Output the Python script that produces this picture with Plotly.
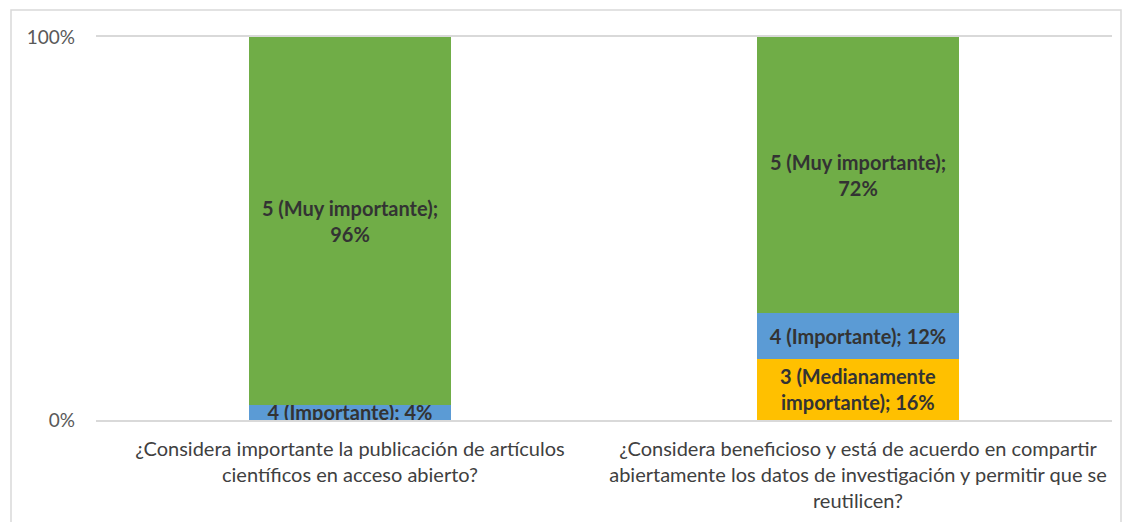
import plotly.graph_objects as go

FONT = "Lato"
C_TEXT = "#404040"
C_AXIS = "#595959"
C_GRID = "#D9D9D9"

categories = [
    "¿Considera importante la publicación de artículos<br>científicos en acceso abierto?",
    "¿Considera beneficioso y está de acuerdo en compartir<br>abiertamente los datos de investigación y permitir que se<br>reutilicen?",
]
series_names = ["3 (Medianamente importante)", "4 (Importante)", "5 (Muy importante)"]
values_3 = [0, 16]
values_4 = [4, 12]
values_5 = [96, 72]
labels_3 = ["", "3 (Medianamente<br>importante); 16%"]
labels_4 = ["4 (Importante); 4%", "4 (Importante); 12%"]
labels_5 = ["5 (Muy importante);<br>96%", "5 (Muy importante);<br>72%"]
colors = ["#FFC000", "#5B9BD5", "#70AD47"]
y_ticks = [0, 100]
y_ticktext = ["0%", "100%"]

fig = go.Figure()
for name, vals, labs, col in zip(series_names, [values_3, values_4, values_5],
                                 [labels_3, labels_4, labels_5], colors):
    fig.add_trace(go.Bar(
        x=categories,
        y=vals,
        name=name,
        text=labs,
        textposition="inside",
        insidetextanchor="middle",
        constraintext="none",
        textangle=0,
        textfont=dict(family=FONT, size=20, color="#333333", weight="bold"),
        marker=dict(color=col, line=dict(width=0)),
        width=0.397,
    ))

W, H = 1123, 522
ml, mr, mt, mb = 96, 11, 37, 102
pw, ph = W - ml - mr, H - mt - mb

def px_x(x):
    return (x - ml) / pw

def px_y(y):
    return (H - mb - y) / ph

fig.update_layout(
    width=W, height=H,
    barmode="stack",
    showlegend=False,
    paper_bgcolor="white",
    plot_bgcolor="white",
    margin=dict(l=ml, r=mr, t=mt, b=mb),
    font=dict(family=FONT, size=20, color=C_TEXT),
    xaxis=dict(
        showgrid=False,
        showline=True,
        mirror=True,
        linecolor=C_GRID,
        linewidth=1.5,
        ticks="",
        tickfont=dict(family=FONT, size=20, color=C_TEXT),
        ticklabelstandoff=10,
    ),
    yaxis=dict(
        range=[0, 100],
        tickvals=y_ticks,
        ticktext=y_ticktext,
        showgrid=False,
        zeroline=False,
        showline=False,
        tickfont=dict(family=FONT, size=19, color=C_AXIS),
        ticklabelstandoff=20,
    ),
    shapes=[dict(
        type="rect", xref="paper", yref="paper",
        x0=px_x(11), x1=px_x(1121), y0=px_y(524), y1=px_y(10),
        line=dict(color=C_GRID, width=1.5), fillcolor="rgba(0,0,0,0)",
        layer="below",
    )],
)

fig.write_html("out.html", config={"displayModeBar": False},
               post_script="document.body.style.margin='0';")
